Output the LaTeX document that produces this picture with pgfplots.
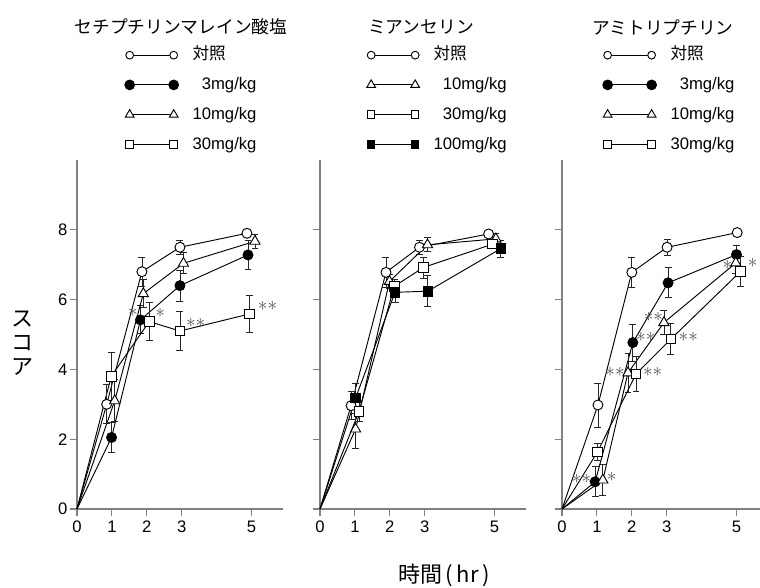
\documentclass[border=0pt]{standalone}
\usepackage{fontspec}
\setmainfont{Liberation Sans}
\newfontfamily\jp{Noto Sans CJK JP}
\usepackage{pgfplots}
\pgfplotsset{compat=1.18}

\pgfplotsset{
  panel/.style={
    scale only axis, anchor=origin, clip=false,
    xmin=0, ymin=0, ymax=10,
    height=261.75pt,
    axis x line*=bottom, axis y line*=left,
    axis line style={gray, line width=1pt},
    tick style={gray, line width=0.8pt},
    major tick length=5.5pt, tick align=outside,
    xtick={0,1,2,3,5}, ytick={0,2,4,6,8},
    /pgf/number format/assume math mode=true,
    ticklabel style={font=\fontsize{12.5}{14}\selectfont},
    yticklabel style={inner sep=1.5pt},
    every axis title/.style={anchor=center, font=\jp\fontsize{13.3}{15}\selectfont},
    legend style={draw=none, fill=none, inner sep=0pt, anchor=north west,
      font=\fontsize{12.5}{14}\selectfont, row sep=9.3pt, column sep=10.5pt,
      nodes={inner sep=0pt, text height=10pt, text depth=3pt}},
    legend cell align=left,
    legend image code/.code={\draw[##1,/tikz/every mark/.append style={scale=0.78}] plot coordinates {(0pt,0pt) (33pt,0pt)};},
  },
  ser/.style={black, line width=0.7pt,
    error bars/y dir=both, error bars/y explicit,
    error bars/error bar style={line width=0.6pt, black!85},
    error bars/error mark options={rotate=90, mark size=2.6pt, line width=0.6pt, black!85}},
  seg/.style={black, line width=0.7pt, no markers, forget plot},
  oc/.style={ser, mark=*, mark size=3.75pt, mark options={fill=white, solid, draw=black}},
  fc/.style={ser, mark=*, mark size=3.75pt, mark options={fill=black, solid, draw=black},
    legend image post style={/tikz/every mark/.append style={scale=1.25}}},
  tr/.style={ser, mark=triangle*, mark size=4.4pt, mark options={fill=white, solid, draw=black},
    legend image post style={/tikz/every mark/.append style={scale=1.1}}},
  sq/.style={ser, mark=square*, mark size=3.6pt, mark options={fill=white, solid, draw=black}},
  fs/.style={ser, mark=square*, mark size=3.6pt, mark options={fill=black, solid, draw=black}},
}
\tikzset{ast/.style={font=\fontsize{14.5}{14.5}\selectfont, text=black!68, inner sep=0pt}}

\begin{document}
\begin{tikzpicture}
\useasboundingbox (-57.75pt,-58.5pt) rectangle (512.25pt,381.75pt);

% ---------------- Panel 1 ----------------
\begin{axis}[panel, at={(0pt,0pt)}, xmax=5.9, width=154.43pt,
  title={セチプチリンマレイン酸塩},
  every axis title/.append style={at={(axis description cs:0.505,1.381)}},
  legend style={at={(axis description cs:0.231,1.326)}},
  ylabel={ス\\コ\\ア},
  every axis y label/.style={at={(axis description cs:-0.267,0.476)}, anchor=center, align=center, font=\jp\fontsize{16.5}{18}\selectfont},
]
\addplot[seg] coordinates {(0,0) (0.85,3.0)};
\addplot[seg] coordinates {(0,0) (0.99,2.05)};
\addplot[seg] coordinates {(0,0) (1.08,3.1)};
\addplot[seg] coordinates {(0,0) (0.98,3.8)};
\addplot[oc] coordinates {(0.85,3.0) +- (0,0.56) (1.86,6.8) +- (0,0.42) (2.95,7.5) +- (0,0.2) (4.87,7.9) +- (0,0.05)};
\addlegendentry{{\jp 対照}}
\addplot[fc] coordinates {(0.99,2.05) +- (0,0.43) (1.82,5.42) +- (0,0.4) (2.95,6.4) +- (0,0.45) (4.9,7.28) +- (0,0.42)};
\addlegendentry{\phantom{1}3mg/kg}
\addplot[tr] coordinates {(1.08,3.1) +- (0,0.6) (1.9,6.17) +- (0,0.4) (3.05,7.04) +- (0,0.3) (5.1,7.67) +- (0,0.2)};
\addlegendentry{10mg/kg}
\addplot[sq] coordinates {(0.98,3.8) +- (0,0.69) (2.07,5.37) +- (0,0.55) (2.95,5.1) +- (0,0.55) (4.95,5.59) +- (0,0.54)};
\addlegendentry{30mg/kg}
\node[ast] at (axis cs:1.6,5.65) {$\ast$};
\node[ast] at (axis cs:2.38,5.62) {$\ast$};
\node[ast] at (axis cs:3.4,5.32) {${\ast}{\ast}$};
\node[ast] at (axis cs:5.46,5.82) {${\ast}{\ast}$};
\end{axis}

% ---------------- Panel 2 ----------------
\begin{axis}[panel, at={(182.25pt,0pt)}, xmax=5.9, width=154.43pt,
  yticklabels={},
  title={ミアンセリン},
  every axis title/.append style={at={(axis description cs:0.49,1.381)}},
  legend style={at={(axis description cs:0.226,1.326)}},
  xlabel={時間\,(\,hr\,)},
  every axis x label/.style={at={(axis description cs:0.602,-0.189)}, anchor=center, font=\jp\fontsize{16.5}{20}\selectfont},
]
\addplot[seg] coordinates {(0,0) (0.89,2.96)};
\addplot[seg] coordinates {(0,0) (1.02,2.29)};
\addplot[seg] coordinates {(0,0) (1.12,2.8)};
\addplot[seg] coordinates {(0,0) (1.02,3.18)};
\addplot[oc] coordinates {(0.89,2.96) +- (0,0.4) (1.89,6.78) +- (0,0.44) (2.85,7.5) +- (0,0.2) (4.83,7.88) +- (0,0.05)};
\addlegendentry{{\jp 対照}}
\addplot[tr] coordinates {(1.02,2.29) +- (0,0.55) (1.99,6.52) +- (0,0.2) (3.08,7.57) +- (0,0.2) (5.04,7.74) +- (0,0.15)};
\addlegendentry{\phantom{1}10mg/kg}
\addplot[sq] coordinates {(1.12,2.8) +- (0,0.3) (2.13,6.38) +- (0,0.2) (2.96,6.92) +- (0,0.3) (4.95,7.59) +- (0,0.1)};
\addlegendentry{\phantom{1}30mg/kg}
\addplot[fs] coordinates {(1.02,3.18) +- (0,0.43) (2.15,6.21) +- (0,0.3) (3.09,6.24) +- (0,0.44) (5.18,7.46) +- (0,0.24)};
\addlegendentry{100mg/kg}
\end{axis}

% ---------------- Panel 3 ----------------
\begin{axis}[panel, at={(363.75pt,0pt)}, xmax=5.66, width=148.15pt,
  yticklabels={},
  title={アミトリプチリン},
  every axis title/.append style={at={(axis description cs:0.511,1.381)}},
  legend style={at={(axis description cs:0.205,1.326)}},
]
\addplot[seg] coordinates {(0,0) (1.03,2.98)};
\addplot[seg] coordinates {(0,0) (0.95,0.78)};
\addplot[seg] coordinates {(0,0) (1.17,0.83)};
\addplot[seg] coordinates {(0,0) (1.02,1.64)};
\addplot[oc] coordinates {(1.03,2.98) +- (0,0.63) (2.0,6.78) +- (0,0.44) (3.01,7.5) +- (0,0.22) (5.02,7.92) +- (0,0.05)};
\addlegendentry{{\jp 対照}}
\addplot[fc] coordinates {(0.95,0.78) +- (0,0.43) (2.03,4.77) +- (0,0.53) (3.04,6.48) +- (0,0.43) (5.0,7.29) +- (0,0.25)};
\addlegendentry{\phantom{1}3mg/kg}
\addplot[tr] coordinates {(1.17,0.83) +- (0,0.45) (1.89,3.9) +- (0,0.55) (2.92,5.34) +- (0,0.35) (4.98,7.05) +- (0,0.3)};
\addlegendentry{10mg/kg}
\addplot[sq] coordinates {(1.02,1.64) +- (0,0.25) (2.12,3.87) +- (0,0.5) (3.12,4.87) +- (0,0.45) (5.12,6.81) +- (0,0.43)};
\addlegendentry{30mg/kg}
\node[ast] at (axis cs:0.56,0.86) {${\ast}{\ast}$};
\node[ast] at (axis cs:1.42,0.92) {$\ast$};
\node[ast] at (axis cs:1.52,3.93) {${\ast}{\ast}$};
\node[ast] at (axis cs:2.6,3.93) {${\ast}{\ast}$};
\node[ast] at (axis cs:2.4,4.94) {${\ast}{\ast}$};
\node[ast] at (axis cs:2.62,5.5) {${\ast}{\ast}$};
\node[ast] at (axis cs:3.62,4.93) {${\ast}{\ast}$};
\node[ast] at (axis cs:4.74,7.0) {$\ast$};
\node[ast] at (axis cs:5.46,7.05) {$\ast$};
\end{axis}
\end{tikzpicture}
\end{document}
